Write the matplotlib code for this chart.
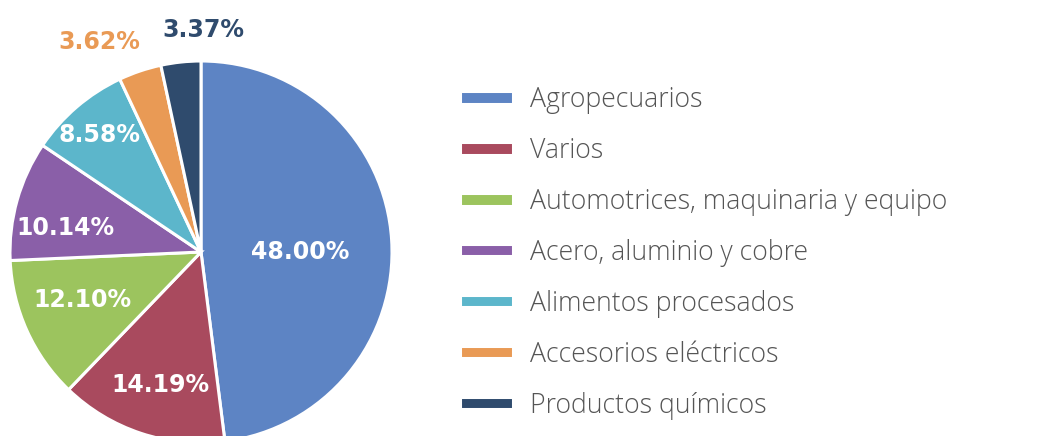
import numpy as np
import matplotlib
matplotlib.use("Agg")
from matplotlib import pyplot as plt

categories = [
    "Agropecuarios",
    "Varios",
    "Automotrices, maquinaria y equipo",
    "Acero, aluminio y cobre",
    "Alimentos procesados",
    "Accesorios eléctricos",
    "Productos químicos",
]
shares = [48.00, 14.19, 12.10, 10.14, 8.58, 3.62, 3.37]
colors = ["#5d84c4", "#a94a5e", "#9cc45e", "#8a5fa8", "#5cb6cb", "#e99a55", "#2f4b6d"]

# label radius and angular nudge (degrees) for each percentage
label_r = [0.52, 0.73, 0.67, 0.72, 0.81, 1.22, 1.16]
label_nudge = [-3.6, 1.3, -2.2, 5.7, 0.2, 7.1, -6.6]
outside = [False, False, False, False, False, True, True]

fig = plt.figure(figsize=(10.61, 4.36), dpi=100)
ax = fig.add_axes([10 / 1061, -7 / 436, 382 / 1061, 382 / 436])

wedges, _ = ax.pie(shares, colors=colors, startangle=90, counterclock=False,
                   wedgeprops=dict(edgecolor="white", linewidth=2.2))

for w, val, r, nudge, out, c in zip(wedges, shares, label_r, label_nudge, outside, colors):
    ang = np.deg2rad((w.theta1 + w.theta2) / 2 + nudge)
    ax.text(r * np.cos(ang), r * np.sin(ang), f"{val:.2f}%",
            ha="center", va="center", fontsize=17, fontweight="bold",
            color=c if out else "white", family="DejaVu Sans")

ax.set_xlim(-1, 1)
ax.set_ylim(-1, 1)
ax.axis("off")

leg = fig.legend(wedges, categories, loc="upper left",
                 bbox_to_anchor=(460 / 1061, 1 - 86 / 436),
                 frameon=False, handlelength=1.97, handleheight=0.34,
                 handletextpad=0.65, labelspacing=0.86, borderpad=0, borderaxespad=0,
                 prop=dict(family="Open Sans", weight="light", size=19.2))
for t in leg.get_texts():
    t.set_color("#555555")

fig.savefig("out.png", dpi=100, facecolor="white")
